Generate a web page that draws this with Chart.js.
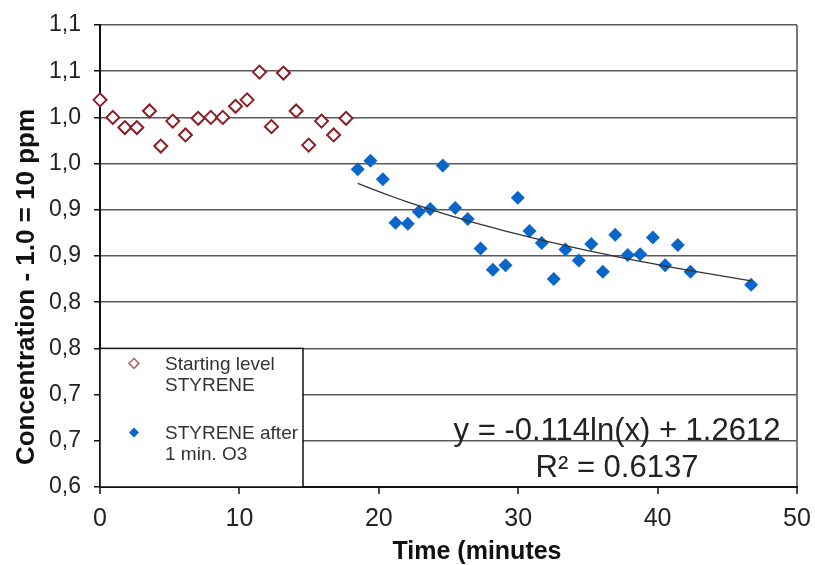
<!DOCTYPE html>
<html lang="en">
<head>
<meta charset="UTF-8">
<title>Styrene - concentration over time</title>
<script src="https://cdn.jsdelivr.net/npm/chart.js@4.4.0/dist/chart.umd.min.js"></script>
<style>
    body { margin: 0; background: #fff; }
    #wrap { width: 815px; height: 565px; }
</style>
</head>
<body>
<div id="wrap"><canvas id="grafico" width="815" height="565"></canvas></div>

<script>
// starting level STYRENE (open red diamonds)
const startTime = [0, 0.92, 1.78, 2.64, 3.55, 4.36, 5.22, 6.13, 7.04, 7.95, 8.81, 9.72, 10.55, 11.44, 12.30, 13.16, 14.07, 14.97, 15.89, 16.76, 17.65];
const startConc = [1.019, 1.000, 0.989, 0.989, 1.007, 0.969, 0.996, 0.981, 0.999, 1.000, 1.000, 1.012, 1.019, 1.049, 0.990, 1.048, 1.007, 0.970, 0.996, 0.981, 0.999];

// STYRENE after 1 min. O3 (filled blue diamonds)
const afterTime = [18.49, 19.40, 20.29, 21.20, 22.08, 22.87, 23.69, 24.59, 25.48, 26.38, 27.30, 28.18, 29.09, 29.97, 30.81, 31.69, 32.55, 33.39, 34.35, 35.24, 36.07, 36.96, 37.86, 38.75, 39.66, 40.54, 41.45, 42.36, 46.71];
const afterConc = [0.944, 0.953, 0.933, 0.886, 0.885, 0.898, 0.901, 0.948, 0.902, 0.890, 0.858, 0.835, 0.840, 0.913, 0.877, 0.864, 0.825, 0.857, 0.845, 0.863, 0.833, 0.873, 0.851, 0.852, 0.870, 0.840, 0.862, 0.833, 0.819];

// log trendline as printed on the chart: y = -0.114ln(x) + 1.2612
const trendA = -0.114;
const trendB = 1.2612;
const trendR2 = '0.6137';

// tick labels (one decimal, comma, as in the original)
const yTickLabels = ['0,6', '0,7', '0,7', '0,8', '0,8', '0,9', '0,9', '1,0', '1,0', '1,1', '1,1'];
const xTickLabels = ['0', '10', '20', '30', '40', '50'];

const legendLabels = [['Starting level', 'STYRENE'], ['STYRENE after', '1 min. O3']];
const xTitle = 'Time (minutes';
const yTitle = 'Concentration - 1.0 = 10 ppm';

const corVermelho = '#8b1c24';
const corAzul = '#0a66c8';
const fonte = '"Liberation Sans", Arial, sans-serif';

function pontos(xs, ys) {
    let lista = [];
    for (let i = 0; i < xs.length; i++) {
        lista.push({ x: xs[i], y: ys[i] });
    }
    return lista;
}

let trend = [];
for (let i = 0; i < afterTime.length; i++) {
    trend.push({ x: afterTime[i], y: trendA * Math.log(afterTime[i]) + trendB });
}

// legend box, trend equation and axis titles
const extras = {
    id: 'extras',
    beforeDatasetsDraw(chart) {
        const ctx = chart.ctx;
        const area = chart.chartArea;
        const boxL = area.left, boxR = area.left + 203;
        const boxT = chart.scales.y.getPixelForValue(0.75), boxB = area.bottom;

        ctx.save();
        ctx.fillStyle = '#fff';
        ctx.fillRect(boxL, boxT, boxR - boxL, boxB - boxT);
        ctx.strokeStyle = '#111';
        ctx.lineWidth = 1.5;
        ctx.strokeRect(boxL, boxT, boxR - boxL, boxB - boxT);

        // markers
        const mx = boxL + 34;
        ctx.beginPath();
        ctx.moveTo(mx, boxT + 10); ctx.lineTo(mx + 5, boxT + 15);
        ctx.lineTo(mx, boxT + 20); ctx.lineTo(mx - 5, boxT + 15); ctx.closePath();
        ctx.strokeStyle = '#b06a70';
        ctx.lineWidth = 1.5;
        ctx.stroke();

        ctx.beginPath();
        ctx.moveTo(mx, boxT + 79); ctx.lineTo(mx + 5, boxT + 84);
        ctx.lineTo(mx, boxT + 89); ctx.lineTo(mx - 5, boxT + 84); ctx.closePath();
        ctx.fillStyle = corAzul;
        ctx.fill();

        ctx.fillStyle = '#333';
        ctx.font = '19px ' + fonte;
        ctx.textAlign = 'left';
        ctx.textBaseline = 'alphabetic';
        ctx.fillText(legendLabels[0][0], boxL + 65, boxT + 22);
        ctx.fillText(legendLabels[0][1], boxL + 65, boxT + 43);
        ctx.fillText(legendLabels[1][0], boxL + 65, boxT + 91);
        ctx.fillText(legendLabels[1][1], boxL + 65, boxT + 112);
        ctx.restore();
    },
    afterDraw(chart) {
        const ctx = chart.ctx;
        ctx.save();
        ctx.fillStyle = '#222';
        ctx.font = '31px ' + fonte;
        ctx.textAlign = 'center';
        ctx.textBaseline = 'alphabetic';
        ctx.fillText('y = ' + trendA.toFixed(3) + 'ln(x) + ' + trendB, 617, 440);
        ctx.fillText('R² = ' + trendR2, 617, 477);

        ctx.fillStyle = '#111';
        ctx.font = 'bold 25px ' + fonte;
        ctx.textBaseline = 'middle';
        ctx.fillText(xTitle, 477, 552);

        ctx.font = 'bold 26px ' + fonte;
        ctx.translate(27, 287);
        ctx.rotate(-Math.PI / 2);
        ctx.fillText(yTitle, 0, 0);
        ctx.restore();
    }
};

Chart.defaults.font.family = fonte;
Chart.defaults.color = '#222';

const config = {
    type: 'scatter',
    data: {
        datasets: [
            {
                label: 'trend',
                type: 'line',
                data: trend,
                borderColor: '#333',
                borderWidth: 1.3,
                pointRadius: 0,
                fill: false,
                tension: 0
            },
            {
                label: legendLabels[0].join(' '),
                data: pontos(startTime, startConc),
                pointStyle: 'rectRot',
                pointRadius: 6.5,
                borderWidth: 2,
                borderColor: corVermelho,
                backgroundColor: '#fff',
                clip: false
            },
            {
                label: legendLabels[1].join(' '),
                data: pontos(afterTime, afterConc),
                pointStyle: 'rectRot',
                pointRadius: 7,
                borderWidth: 0,
                borderColor: corAzul,
                backgroundColor: corAzul,
                clip: false
            }
        ]
    },
    options: {
        responsive: false,
        animation: false,
        events: [],
        layout: { padding: { left: 0, right: 18, top: 25, bottom: 0 } },
        plugins: {
            legend: { display: false },
            tooltip: { enabled: false }
        },
        scales: {
            x: {
                type: 'linear',
                min: 0,
                max: 50,
                afterFit: function (scale) { scale.height = 78; },
                ticks: {
                    stepSize: 10,
                    padding: 4,
                    font: { size: 25, lineHeight: 1.7 },
                    color: '#222',
                    callback: function (v, i) { return xTickLabels[i]; }
                },
                grid: {
                    color: function (c) { return c.tick && c.tick.value === 50 ? '#7a7a7a' : 'rgba(0,0,0,0)'; },
                    lineWidth: 2,
                    tickLength: 7,
                    tickColor: '#111',
                    tickWidth: 1.5
                },
                border: { color: '#111', width: 2 }
            },
            y: {
                min: 0.6,
                max: 1.1,
                afterFit: function (scale) { scale.width = 100; },
                ticks: {
                    stepSize: 0.05,
                    padding: 13,
                    font: { size: 23, lineHeight: 1 },
                    color: '#222',
                    callback: function (v, i) { return yTickLabels[i]; }
                },
                grid: {
                    color: '#5a5a5a',
                    lineWidth: 1.5,
                    tickLength: 6,
                    tickColor: '#111',
                    tickWidth: 1.5
                },
                border: { color: '#111', width: 2 }
            }
        }
    },
    plugins: [extras]
};

let myChart = new Chart(document.getElementById('grafico'), config);
</script>
</body>
</html>
